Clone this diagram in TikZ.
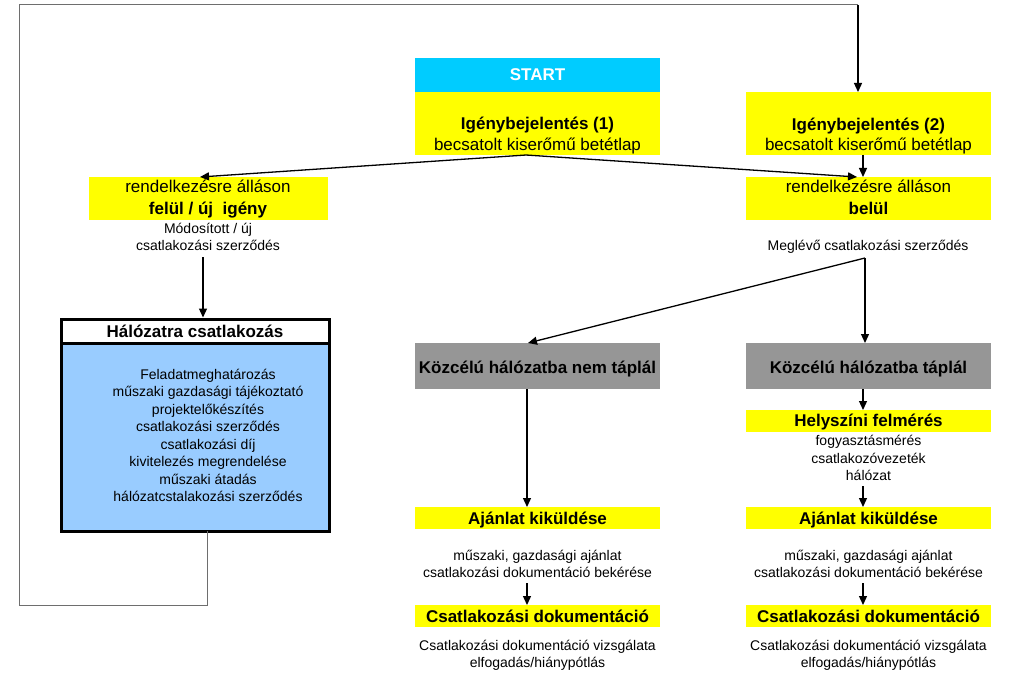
\documentclass[tikz,border=0pt]{standalone}
\usepackage{fontspec}
\setmainfont{Liberation Sans}
\usetikzlibrary{arrows.meta}
\definecolor{yel}{HTML}{FFFF00}
\definecolor{cyn}{HTML}{00CCFF}
\definecolor{gry}{HTML}{969696}
\definecolor{lblue}{HTML}{99CCFF}
\definecolor{framec}{HTML}{6E6E6E}
\newcommand{\bigf}{\fontsize{17}{21}\selectfont}
\newcommand{\smallf}{\fontsize{14}{17.5}\selectfont}
\tikzset{
  box/.style={anchor=north west, inner sep=0pt, outer sep=0pt, draw=none},
  ybox/.style={box, fill=yel, minimum width=245pt},
  gbox/.style={box, fill=gry, minimum width=245pt, minimum height=46pt},
  tb/.style={anchor=base, inner sep=0pt, font=\bigf\bfseries},
  tr/.style={anchor=base, inner sep=0pt, font=\bigf},
  ts/.style={anchor=base, inner sep=0pt, font=\smallf},
  arr/.style={line width=1.3pt, -{Triangle[length=9pt,width=8pt]}},
  loopline/.style={framec, line width=1pt}
}
\begin{document}
\begin{tikzpicture}[x=1pt,y=-1pt]
\useasboundingbox (0,0) rectangle (1024,679);
\fill[white] (0,0) rectangle (1024,679);

% boxes
\node[box, fill=cyn, minimum width=245pt, minimum height=34pt] (start) at (415,58) {};
\node[ybox, minimum height=63pt] (ig1) at (415,92) {};
\node[ybox, minimum height=63pt] (ig2) at (746,92) {};
\node[box, fill=yel, minimum width=239pt, minimum height=43pt] (lyel) at (89,177) {};
\node[ybox, minimum height=43pt] (ryel) at (746,177) {};
\node[box, fill=lblue, draw=black, line width=3pt, minimum width=268pt, minimum height=212pt] (hal) at (61,319) {};
\node[box, fill=white, draw=black, line width=3pt, minimum width=268pt, minimum height=24pt] (halhead) at (61,319) {};
\node[gbox] (grl) at (415,343) {};
\node[gbox] (grr) at (746,343) {};
\node[ybox, minimum height=22pt] (hely) at (746,410) {};
\node[ybox, minimum height=22pt] (ajl) at (415,507) {};
\node[ybox, minimum height=22pt] (ajr) at (746,507) {};
\node[ybox, minimum height=22pt] (csl) at (415,605) {};
\node[ybox, minimum height=22pt] (csr) at (746,605) {};

% texts
\node[tb, text=white] (tstart) at (537.5,81) {START};
\node[tb] (tig1a) at (537.5,130) {Igénybejelentés (1)};
\node[tr] (tig1b) at (537.5,151) {becsatolt kiserőmű betétlap};
\node[tb] (tig2a) at (868.5,131) {Igénybejelentés (2)};
\node[tr] (tig2b) at (868.5,151) {becsatolt kiserőmű betétlap};
\node[tr] (tlya) at (208,192) {rendelkezésre álláson};
\node[tb] (tlyb) at (208,214) {felül / új\ \ igény};
\node[ts] (tmod1) at (208,233) {Módosított / új};
\node[ts] (tmod2) at (208,250) {csatlakozási szerződés};
\node[tr] (trya) at (868.5,193) {rendelkezésre álláson};
\node[tb] (tryb) at (868.5,214) {belül};
\node[ts] (tmeg) at (868,250) {Meglévő csatlakozási szerződés};
\node[tb] (thal) at (195,337) {Hálózatra csatlakozás};
\foreach \t [count=\i from 0] in {Feladatmeghatározás, műszaki gazdasági tájékoztató, projektelőkészítés, csatlakozási szerződés, csatlakozási díj, kivitelezés megrendelése, műszaki átadás, hálózatcstalakozási szerződés}
  \node[ts] (hl\i) at (208,379+17.5*\i) {\t};
\node[tb] (tgrl) at (537.5,373) {Közcélú hálózatba nem táplál};
\node[tb] (tgrr) at (868.5,373) {Közcélú hálózatba táplál};
\node[tb] (thely) at (868.5,426) {Helyszíni felmérés};
\node[ts] (thely1) at (868.5,445) {fogyasztásmérés};
\node[ts] (thely2) at (868.5,463) {csatlakozóvezeték};
\node[ts] (thely3) at (868.5,480) {hálózat};
\node[tb] (tajl) at (537.5,524) {Ajánlat kiküldése};
\node[tb] (tajr) at (868.5,524) {Ajánlat kiküldése};
\node[ts] (tajl1) at (537.5,560) {műszaki, gazdasági ajánlat};
\node[ts] (tajl2) at (537.5,577) {csatlakozási dokumentáció bekérése};
\node[ts] (tajr1) at (868.5,560) {műszaki, gazdasági ajánlat};
\node[ts] (tajr2) at (868.5,577) {csatlakozási dokumentáció bekérése};
\node[tb] (tcsl) at (537.5,622) {Csatlakozási dokumentáció};
\node[tb] (tcsr) at (868.5,622) {Csatlakozási dokumentáció};
\node[ts] (tcsl1) at (537.5,650) {Csatlakozási dokumentáció vizsgálata};
\node[ts] (tcsl2) at (537.5,667) {elfogadás/hiánypótlás};
\node[ts] (tcsr1) at (868.5,650) {Csatlakozási dokumentáció vizsgálata};
\node[ts] (tcsr2) at (868.5,667) {elfogadás/hiánypótlás};

% connector points
\coordinate (halout) at (207,531);
\coordinate (c1) at (207,605);
\coordinate (c2) at (19,605);
\coordinate (c3) at (19,5);
\coordinate (c4) at (858,5);
\coordinate (j1) at (526,155);
\coordinate (s1) at (865,258);
\coordinate (m1) at (203,257);

% connectors
\draw[loopline] (halout) -- (c1) -- (c2) -- (c3) -- (c4);
\draw[arr] (c4) -- (c4 |- ig2.north);
\draw[arr] (j1) -- (lyel.north -| 200,0);
\draw[arr] (j1) -- (ryel.north -| 857,0);
\draw[arr] (ig2.south -| 863,0) -- (ryel.north -| 863,0);
\draw[arr] (m1) -- ([yshift=1.5pt]halhead.north -| m1);
\draw[arr] (s1) -- (grr.north -| s1);
\draw[arr] (s1) -- (grl.north -| 528,0);
\draw[arr] (grl.south -| 527,0) -- (ajl.north -| 527,0);
\draw[arr] (grr.south -| 863,0) -- (hely.north -| 863,0);
\coordinate (h1) at (863,486);
\draw[arr] (h1) -- (ajr.north -| h1);
\coordinate (a1) at (527,583);
\coordinate (a2) at (863,583);
\draw[arr] (a1) -- (csl.north -| a1);
\draw[arr] (a2) -- (csr.north -| a2);
\end{tikzpicture}
\end{document}
